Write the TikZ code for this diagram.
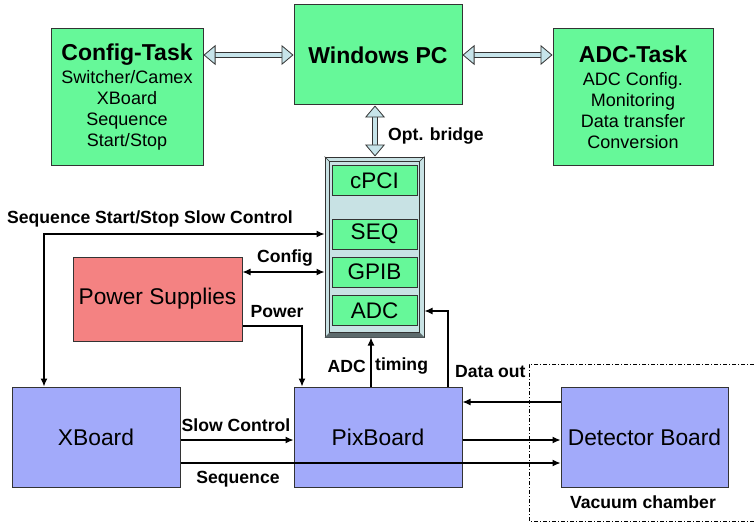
\documentclass[tikz,border=0pt]{standalone}
\usepackage{fontspec}
\setmainfont{Liberation Sans}
\usetikzlibrary{arrows.meta, positioning, calc}
\definecolor{TaskGreen}{HTML}{66F899}
\definecolor{BoardBlue}{HTML}{A2AAFA}
\definecolor{SupplyRed}{HTML}{F48282}
\definecolor{RackGray}{HTML}{C8E2E4}
\definecolor{BevelDark}{HTML}{5C6A6C}
\definecolor{PipeBlue}{HTML}{C6E4EA}
\definecolor{EdgeGray}{HTML}{333333}
\tikzset{
  taskbox/.style={draw=EdgeGray, fill=TaskGreen, line width=1pt, align=center, inner sep=0pt, font=\fontsize{18}{21}\selectfont},
  boardbox/.style={draw=EdgeGray, fill=BoardBlue, line width=1pt, align=center, inner sep=0pt, minimum width=168pt, minimum height=100pt, font=\fontsize{22.8}{26}\selectfont},
  module/.style={draw=EdgeGray, fill=TaskGreen, line width=1pt, inner sep=0pt, minimum width=85pt, minimum height=30pt, font=\fontsize{22.5}{26}\selectfont},
  lbl/.style={inner sep=0pt, font=\fontsize{17.6}{20}\selectfont\bfseries},
  arr/.style={-{Latex[length=8pt, width=7pt]}, line width=1.2pt},
  pipe/.style={draw=EdgeGray, line width=0.8pt, double=PipeBlue, double distance=3.5pt,
    {Triangle[length=12pt, width=20pt, fill=PipeBlue, line width=0.8pt]}-{Triangle[length=12pt, width=20pt, fill=PipeBlue, line width=0.8pt]}}
}
\newcommand{\tasktitle}[1]{{\fontsize{23}{25}\selectfont\bfseries #1}}

\begin{document}
\begin{tikzpicture}[x=1pt, y=-1pt]
\useasboundingbox (0,0) rectangle (754,524);

% host side
\node[taskbox, minimum width=168pt, minimum height=100pt] (pc) at (378,55) {\tasktitle{Windows PC}};
\node[taskbox, minimum width=152pt, minimum height=137pt] (cfg) at (127,97)
  {\tasktitle{Config-Task}\\[2pt]Switcher/Camex\\XBoard\\Sequence\\Start/Stop};
\node[taskbox, minimum width=160pt, minimum height=137pt] (adct) at (633,97)
  {\tasktitle{ADC-Task}\\[2pt]ADC Config.\\Monitoring\\Data transfer\\Conversion};

% crate with bevel
\node[draw=EdgeGray, fill=RackGray, line width=1pt, minimum width=99pt, minimum height=180pt, inner sep=0pt] (rack) at (374.5,247) {};
\fill[BevelDark] (rack.south west) -- (rack.south east) -- ($(rack.south east)+(-5,-5)$) -- ($(rack.south west)+(5,-5)$) -- cycle;
\draw[EdgeGray, line width=0.8pt] ($(rack.north west)+(5,5)$) rectangle ($(rack.south east)+(-5,-5)$);
\draw[EdgeGray, line width=0.6pt] (rack.north west) -- ++(5,5) (rack.north east) -- ++(-5,5);
\node[module] (cpci) at (374.5,180.5) {cPCI};
\node[module] (seq) at (374.5,234) {SEQ};
\node[module] (gpib) at (374.5,272) {GPIB};
\node[module] (adc) at (374.5,310.5) {ADC};

\node[draw=EdgeGray, fill=SupplyRed, line width=1pt, minimum width=169pt, minimum height=84pt, inner sep=0pt, font=\fontsize{22.7}{26}\selectfont] (ps) at (157.5,299) {Power Supplies};

% front end
\node[boardbox] (xb) at (96,437) {XBoard};
\node[boardbox] (pix) at (378,437) {PixBoard};
\node[boardbox, minimum width=167pt] (det) at (644.5,437) {Detector Board};

\draw[line width=0.6pt, dash pattern=on 4pt off 2pt on 1pt off 2pt] (754,364) -- (529,364) -- (529,521) -- (754,521);
\node[lbl] (vac) at (643,502) {Vacuum chamber};

% links to the PC
\draw[pipe] (cfg.east |- pc.center) -- (pc.west);
\draw[pipe] (pc.east) -- (adct.west |- pc.center);
\draw[pipe] (pc.south -| 375,0) -- (rack.north -| 375,0);
\node[lbl, anchor=west] (optlbl) at (388,136) {Opt. bridge};

% control lines
\coordinate (sss) at (44,234);
\draw[arr, {Latex[length=8pt, width=7pt]}-{Latex[length=8pt, width=7pt]}] (xb.north -| sss) -- (sss) -- (sss -| rack.west);
\node[lbl, anchor=west] (ssslbl) at (7,219) {Sequence Start/Stop Slow Control};

\draw[arr, {Latex[length=8pt, width=7pt]}-{Latex[length=8pt, width=7pt]}] (ps.east |- gpib) -- (rack.west |- gpib);
\node[lbl] (cfglbl) at (285,258) {Config};

\coordinate (pw) at (302,326);
\draw[arr] (pw -| ps.east) -- (pw) -- (pw |- pix.north);
\node[lbl] (pwlbl) at (277,312) {Power};

\coordinate (tm) at (371,360);
\draw[arr] (tm |- pix.north) -- (tm |- rack.south);
\node[lbl, anchor=east] (tmlbl1) at (366,366) {ADC};
\node[lbl, anchor=west] (tmlbl2) at (375,366) {timing};

\coordinate (dout) at (448,311);
\draw[arr] (dout |- pix.north) -- (dout) -- (dout -| rack.east);
\node[lbl, anchor=west] (doutlbl) at (455,372) {Data out};

% board links
\coordinate (rd) at (500,402);
\draw[arr] (rd -| det.west) -- (rd -| pix.east);
\coordinate (wr) at (500,440);
\draw[arr] (wr -| pix.east) -- (wr -| det.west);
\draw[arr] (wr -| xb.east) -- (wr -| pix.west);
\node[lbl] (sclbl) at (236,425) {Slow Control};
\coordinate (sq) at (300,463);
\draw[arr] (sq -| xb.east) -- (sq -| det.west);
\node[lbl] (sqlbl) at (238,479) {Sequence};
\end{tikzpicture}
\end{document}
